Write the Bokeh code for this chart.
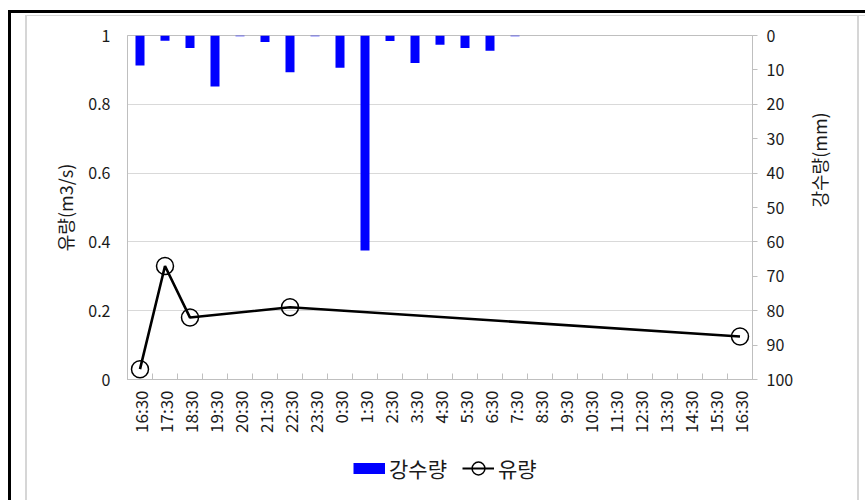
from bokeh.plotting import figure
from bokeh.layouts import column
from bokeh.models import (Range1d, LinearAxis, FixedTicker, SingleIntervalTicker,
                          NumeralTickFormatter, Legend, LegendItem, ColumnDataSource)
from bokeh.embed import file_html
from bokeh.resources import INLINE
import math

# ---- data ----
times = ["16:30", "17:30", "18:30", "19:30", "20:30", "21:30", "22:30", "23:30",
         "0:30", "1:30", "2:30", "3:30", "4:30", "5:30", "6:30", "7:30", "8:30",
         "9:30", "10:30", "11:30", "12:30", "13:30", "14:30", "15:30", "16:30"]
rain_mm = [8.7, 1.5, 3.6, 14.8, 0.2, 1.9, 10.7, 0.2, 9.4, 62.5, 1.6, 8.0, 2.7,
           3.6, 4.4, 0.2, 0, 0, 0, 0, 0, 0, 0, 0, 0]
flow_idx = [0, 1, 2, 6, 24]
flow_m3s = [0.03, 0.33, 0.18, 0.21, 0.125]
flow_ticks = [0, 0.2, 0.4, 0.6, 0.8, 1.0]
series_names = ["강수량", "유량"]

FONT = "Noto Sans CJK KR"
TXT = "#1a1a1a"
GRID = "#d9d9d9"
AXC = "#bfbfbf"
BLUE = "#0000FF"

n = len(times)
idx = list(range(n))

W, H1, H2 = 865, 440, 60
fig = figure(width=W, height=H1, output_backend="svg", toolbar_location=None,
             x_range=Range1d(-0.5, n - 0.5), y_range=Range1d(0, 1),
             min_border_left=127, min_border_right=W - 752, min_border_top=35,
             min_border_bottom=H1 - 379)
fig.extra_y_ranges = {"rain": Range1d(100, 0)}
fig.border_fill_alpha = 0

# rain bars hanging from the top (reversed axis)
src_rain = ColumnDataSource(dict(x=idx, r=rain_mm))
fig.vbar(x="x", top=0, bottom="r", width=0.36, source=src_rain, y_range_name="rain",
         fill_color=BLUE, line_color=None)

# flow line
src_flow = ColumnDataSource(dict(x=flow_idx, y=flow_m3s))
fig.line(x="x", y="y", source=src_flow, line_color="black", line_width=2.6)
fig.scatter(x="x", y="y", source=src_flow, marker="circle", size=17,
            fill_color=None, line_color="black", line_width=1.5)

# axes
fig.xaxis.ticker = FixedTicker(ticks=idx, minor_ticks=[i - 0.5 for i in range(n + 1)])
fig.xaxis.major_label_overrides = {i: t for i, t in enumerate(times)}
fig.xaxis.major_label_orientation = math.pi / 2
fig.xaxis.major_tick_in = 0
fig.xaxis.major_tick_out = 0
fig.xaxis.minor_tick_in = 6
fig.xaxis.minor_tick_out = 0
fig.xaxis.minor_tick_line_color = AXC
fig.xaxis.axis_line_color = AXC
fig.xaxis.major_label_standoff = 11
fig.xaxis.major_label_text_font = FONT
fig.xaxis.major_label_text_font_size = "17px"
fig.xaxis.major_label_text_color = TXT

fig.yaxis.ticker = FixedTicker(ticks=flow_ticks)
fig.yaxis.formatter = NumeralTickFormatter(format="0.[0]")
fig.yaxis.major_tick_in = 0
fig.yaxis.major_tick_out = 0
fig.yaxis.minor_tick_line_color = None
fig.yaxis.axis_line_color = AXC
fig.yaxis.major_label_standoff = 17
fig.yaxis.major_label_text_font = FONT
fig.yaxis.major_label_text_font_size = "16px"
fig.yaxis.major_label_text_color = TXT
fig.yaxis.axis_label = "유량(m3/s)"
fig.yaxis.axis_label_text_font = FONT
fig.yaxis.axis_label_text_font_size = "18px"
fig.yaxis.axis_label_text_font_style = "normal"
fig.yaxis.axis_label_text_color = TXT
fig.yaxis.axis_label_standoff = 7

ra = LinearAxis(y_range_name="rain", ticker=SingleIntervalTicker(interval=10),
                axis_label="강수량(mm)")
ra.major_tick_in = 0
ra.major_tick_out = 5
ra.major_tick_line_color = AXC
ra.minor_tick_line_color = None
ra.axis_line_color = AXC
ra.major_label_standoff = 9
ra.major_label_text_font = FONT
ra.major_label_text_font_size = "16px"
ra.major_label_text_color = TXT
ra.axis_label_text_font = FONT
ra.axis_label_text_font_size = "18px"
ra.axis_label_text_font_style = "normal"
ra.axis_label_text_color = TXT
ra.axis_label_standoff = 23
try:
    ra.axis_label_orientation = math.pi / 2
except Exception:
    pass
fig.add_layout(ra, "right")

fig.xgrid.grid_line_color = None
fig.ygrid.ticker = FixedTicker(ticks=flow_ticks)
fig.ygrid.grid_line_color = GRID
fig.outline_line_color = AXC

# ---- legend strip below the chart (proxy renderers draw nothing) ----
leg = figure(width=W, height=H2, output_backend="svg", toolbar_location=None,
             x_range=Range1d(0, 1), y_range=Range1d(0, 1),
             x_axis_location=None, y_axis_location=None,
             min_border_left=0, min_border_right=0, min_border_top=0, min_border_bottom=0)
leg.grid.visible = False
leg.outline_line_color = None
leg.background_fill_alpha = 0
leg.border_fill_alpha = 0
nan = float("nan")
proxy = ColumnDataSource(dict(x=[nan], y=[nan]))
r_rain = leg.line(x="x", y="y", source=proxy, line_color=BLUE, line_width=11, line_cap="butt")
r_fl = leg.line(x="x", y="y", source=proxy, line_color="black", line_width=2.2)
r_fm = leg.scatter(x="x", y="y", source=proxy, marker="circle", size=14,
                   fill_color=None, line_color="black", line_width=1.5)
legend = Legend(items=[LegendItem(label=series_names[0], renderers=[r_rain]),
                       LegendItem(label=series_names[1], renderers=[r_fl, r_fm])],
                orientation="horizontal", location=(226, 15),
                label_text_font=FONT, label_text_font_size="21px", label_text_color=TXT,
                glyph_width=32, glyph_height=34, spacing=15, label_standoff=4,
                padding=0, margin=0, border_line_color=None, background_fill_alpha=0)
leg.add_layout(legend, "center")

p = column(fig, leg, spacing=0, styles={
    "background-color": "white",
    "box-shadow": ("inset 8px 10px 0 0 white, inset 11px 13px 0 0 black, "
                   "inset 25px 15px 0 0 white, inset 27px 16px 0 0 #d6d6d6, "
                   "inset -6px 0 0 0 white, inset -8px 0 0 0 #d6d6d6"),
})

open("out.html", "w").write(file_html(p, INLINE))
